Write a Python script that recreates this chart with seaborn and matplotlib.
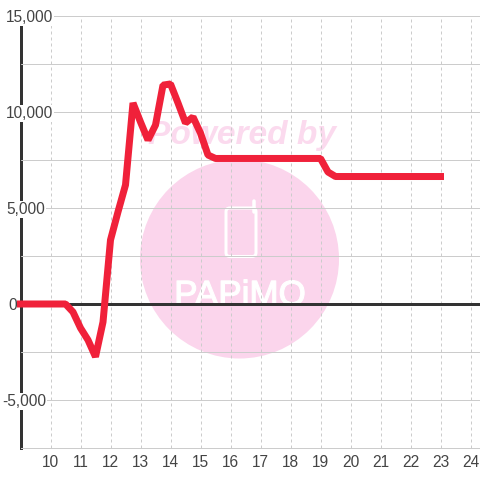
import matplotlib
matplotlib.use("Agg")
import matplotlib.pyplot as plt
import matplotlib.patheffects as pe
import seaborn as sns
from matplotlib.patches import Circle, FancyBboxPatch
from matplotlib.lines import Line2D

hours = [9, 10.5, 10.75, 11, 11.25, 11.5, 11.75, 12, 12.25, 12.5, 12.75, 13, 13.25, 13.5,
         13.75, 14, 14.25, 14.5, 14.75, 15, 15.25, 15.5, 15.75, 19, 19.25, 19.5, 23]
values = [0, 0, -417, -1250, -1875, -2750, -940, 3333, 4800, 6200, 10470, 9480, 8540, 9320,
          11400, 11460, 10470, 9430, 9740, 8900, 7760, 7580, 7580, 7580, 6875, 6640, 6640]
x_ticks = list(range(10, 25))
y_ticks = [-7500, -5000, -2500, 0, 2500, 5000, 7500, 10000, 12500, 15000]
y_labels = ["", "-5,000", "", "0", "", "5,000", "", "10,000", "", "15,000"]
y_label_left_px = {"-5,000": 2, "0": 8, "5,000": 6, "10,000": 6, "15,000": 6}

sns.set_theme(style="white")
plt.rcParams["font.family"] = ["Liberation Sans", "DejaVu Sans"]

fig = plt.figure(figsize=(4.8, 4.8), dpi=100)
ax = fig.add_axes([20.5 / 480, 32 / 480, 459.5 / 480, 432 / 480])
px = lambda n: n * 0.72
ft = fig.transFigure

def X(p):
    return p / 480

def Y(p):
    return 1 - p / 480

# watermark, under the grid
ax.add_patch(Circle((X(239.5), Y(259)), 99.5 / 480, transform=ft, facecolor="#FBD5EC",
                    edgecolor="none", clip_on=False, zorder=1))
ax.add_patch(FancyBboxPatch((X(226), Y(256.5)), 30 / 480, 48.5 / 480, boxstyle="round,pad=0,rounding_size=0.008",
                            transform=ft, facecolor="none", edgecolor="white", linewidth=px(3),
                            clip_on=False, zorder=1.1))
ax.add_line(Line2D([X(254.5), X(254.5)], [Y(212), Y(201)], transform=ft, color="white",
                   linewidth=px(3.5), zorder=1.1, clip_on=False))
ax.text(X(242), Y(144), "Powered by", transform=ft, ha="center", va="baseline",
        color="#FBDAEE", fontsize=px(33.5), fontweight="bold", fontstyle="italic",
        zorder=1.2)
ax.text(X(240), Y(305), "PAPiMO", transform=ft, ha="center", va="baseline", color="white",
        fontsize=px(35), family=["Liberation Sans"], zorder=1.1,
        path_effects=[pe.withStroke(linewidth=px(1.2), foreground="white")])

ax.axhline(0, color="#333333", linewidth=px(3), zorder=3)
sns.lineplot(x=hours, y=values, ax=ax, color="#F0213A", linewidth=px(7), sort=False,
             errorbar=None, solid_capstyle="projecting", solid_joinstyle="bevel",
             zorder=4, clip_on=False)

ax.set_xlim(9, 9 + 459.5 / 30)
ax.set_ylim(-7500, 15000)
ax.set_facecolor("white")
ax.set_axisbelow(False)
ax.set_xticks(x_ticks)
ax.set_xticklabels([str(v) for v in x_ticks])
ax.set_yticks(y_ticks)
ax.set_yticklabels(y_labels)
ax.tick_params(axis="both", length=0, labelsize=px(15.5), labelcolor="#444444")
ax.tick_params(axis="x", pad=px(7))
ax.grid(axis="y", color="#CCCCCC", linewidth=px(1), linestyle="-")
ax.grid(axis="x", color="#CCCCCC", linewidth=px(1), linestyle=(0, (3, 3)))

for tick, lab in zip(ax.yaxis.get_major_ticks(), y_labels):
    t = tick.label1
    if lab:
        tick.set_pad(px(20.5 - y_label_left_px[lab]))
        t.set_ha("left")
        t.set_bbox(dict(facecolor="white", edgecolor="none", pad=px(1)))

for side in ("top", "bottom"):
    ax.spines[side].set_visible(True)
    ax.spines[side].set_color("#CCCCCC")
    ax.spines[side].set_linewidth(px(1))
ax.spines["right"].set_visible(False)
ax.spines["left"].set_visible(True)
ax.spines["left"].set_color("#333333")
ax.spines["left"].set_linewidth(px(3))

fig.savefig("out.png", dpi=100)
